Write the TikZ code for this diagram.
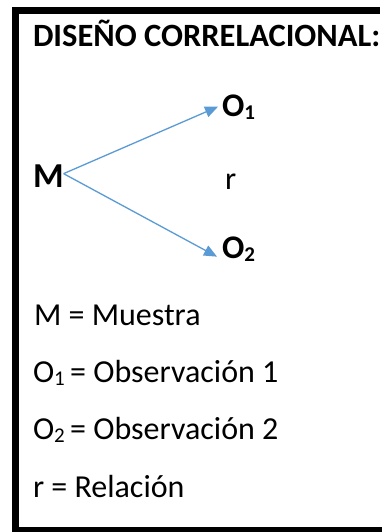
\documentclass[tikz,border=0pt]{standalone}
\usepackage{fontspec}
\setmainfont{Carlito}
\usetikzlibrary{arrows.meta}
\definecolor{arrowblue}{HTML}{5B9BD5}
\newcommand{\subs}[3]{\raisebox{-#2pt}{\fontsize{#1}{#1}\selectfont #3}}
\begin{document}
\begin{tikzpicture}[x=1pt,y=-1pt,
  txt/.style={anchor=base west,inner sep=0pt,outer sep=0pt},
  conn/.style={draw=arrowblue,line width=1.3pt,-{Triangle[length=13pt,width=11pt]}}]
\fill[white] (0,0) rectangle (382,532);
\useasboundingbox (0,0) rectangle (382,532);
\fill[black] (12,7) rectangle (380,14);
\fill[black] (12,7) rectangle (19,532);
\fill[black] (12,527) rectangle (382,532);
\node[txt] (title) at (33,47) {\fontsize{32.5}{34}\selectfont\bfseries DISEÑO CORRELACIONAL:};
\node[txt] (M) at (33,187) {\fontsize{35}{37}\selectfont\bfseries M};
\node[txt] (O1) at (222,117) {\fontsize{33}{35}\selectfont\bfseries O\subs{21}{3}{1}};
\node[txt] (O2) at (222,258) {\fontsize{33}{35}\selectfont\bfseries O\subs{21}{3}{2}};
\node[txt] (r) at (225,189) {\fontsize{32}{34}\selectfont r};
\coordinate (Ms) at ([yshift=2pt]M.east);
\draw[conn] (Ms) -- ([xshift=-4pt,yshift=1pt]O1.west);
\draw[conn] (Ms) -- ([xshift=-5pt,yshift=-8pt]O2.west);
\node[txt] (l1) at (34,325) {\fontsize{32}{34}\selectfont M = Muestra};
\node[txt] (l2) at (33,382) {\fontsize{32}{34}\selectfont O\subs{21}{3}{1}\,= Observación 1};
\node[txt] (l3) at (33,439) {\fontsize{32}{34}\selectfont O\subs{21}{3}{2}\,= Observación 2};
\node[txt] (l4) at (33,497) {\fontsize{32}{34}\selectfont r = Relación};
\end{tikzpicture}
\end{document}
